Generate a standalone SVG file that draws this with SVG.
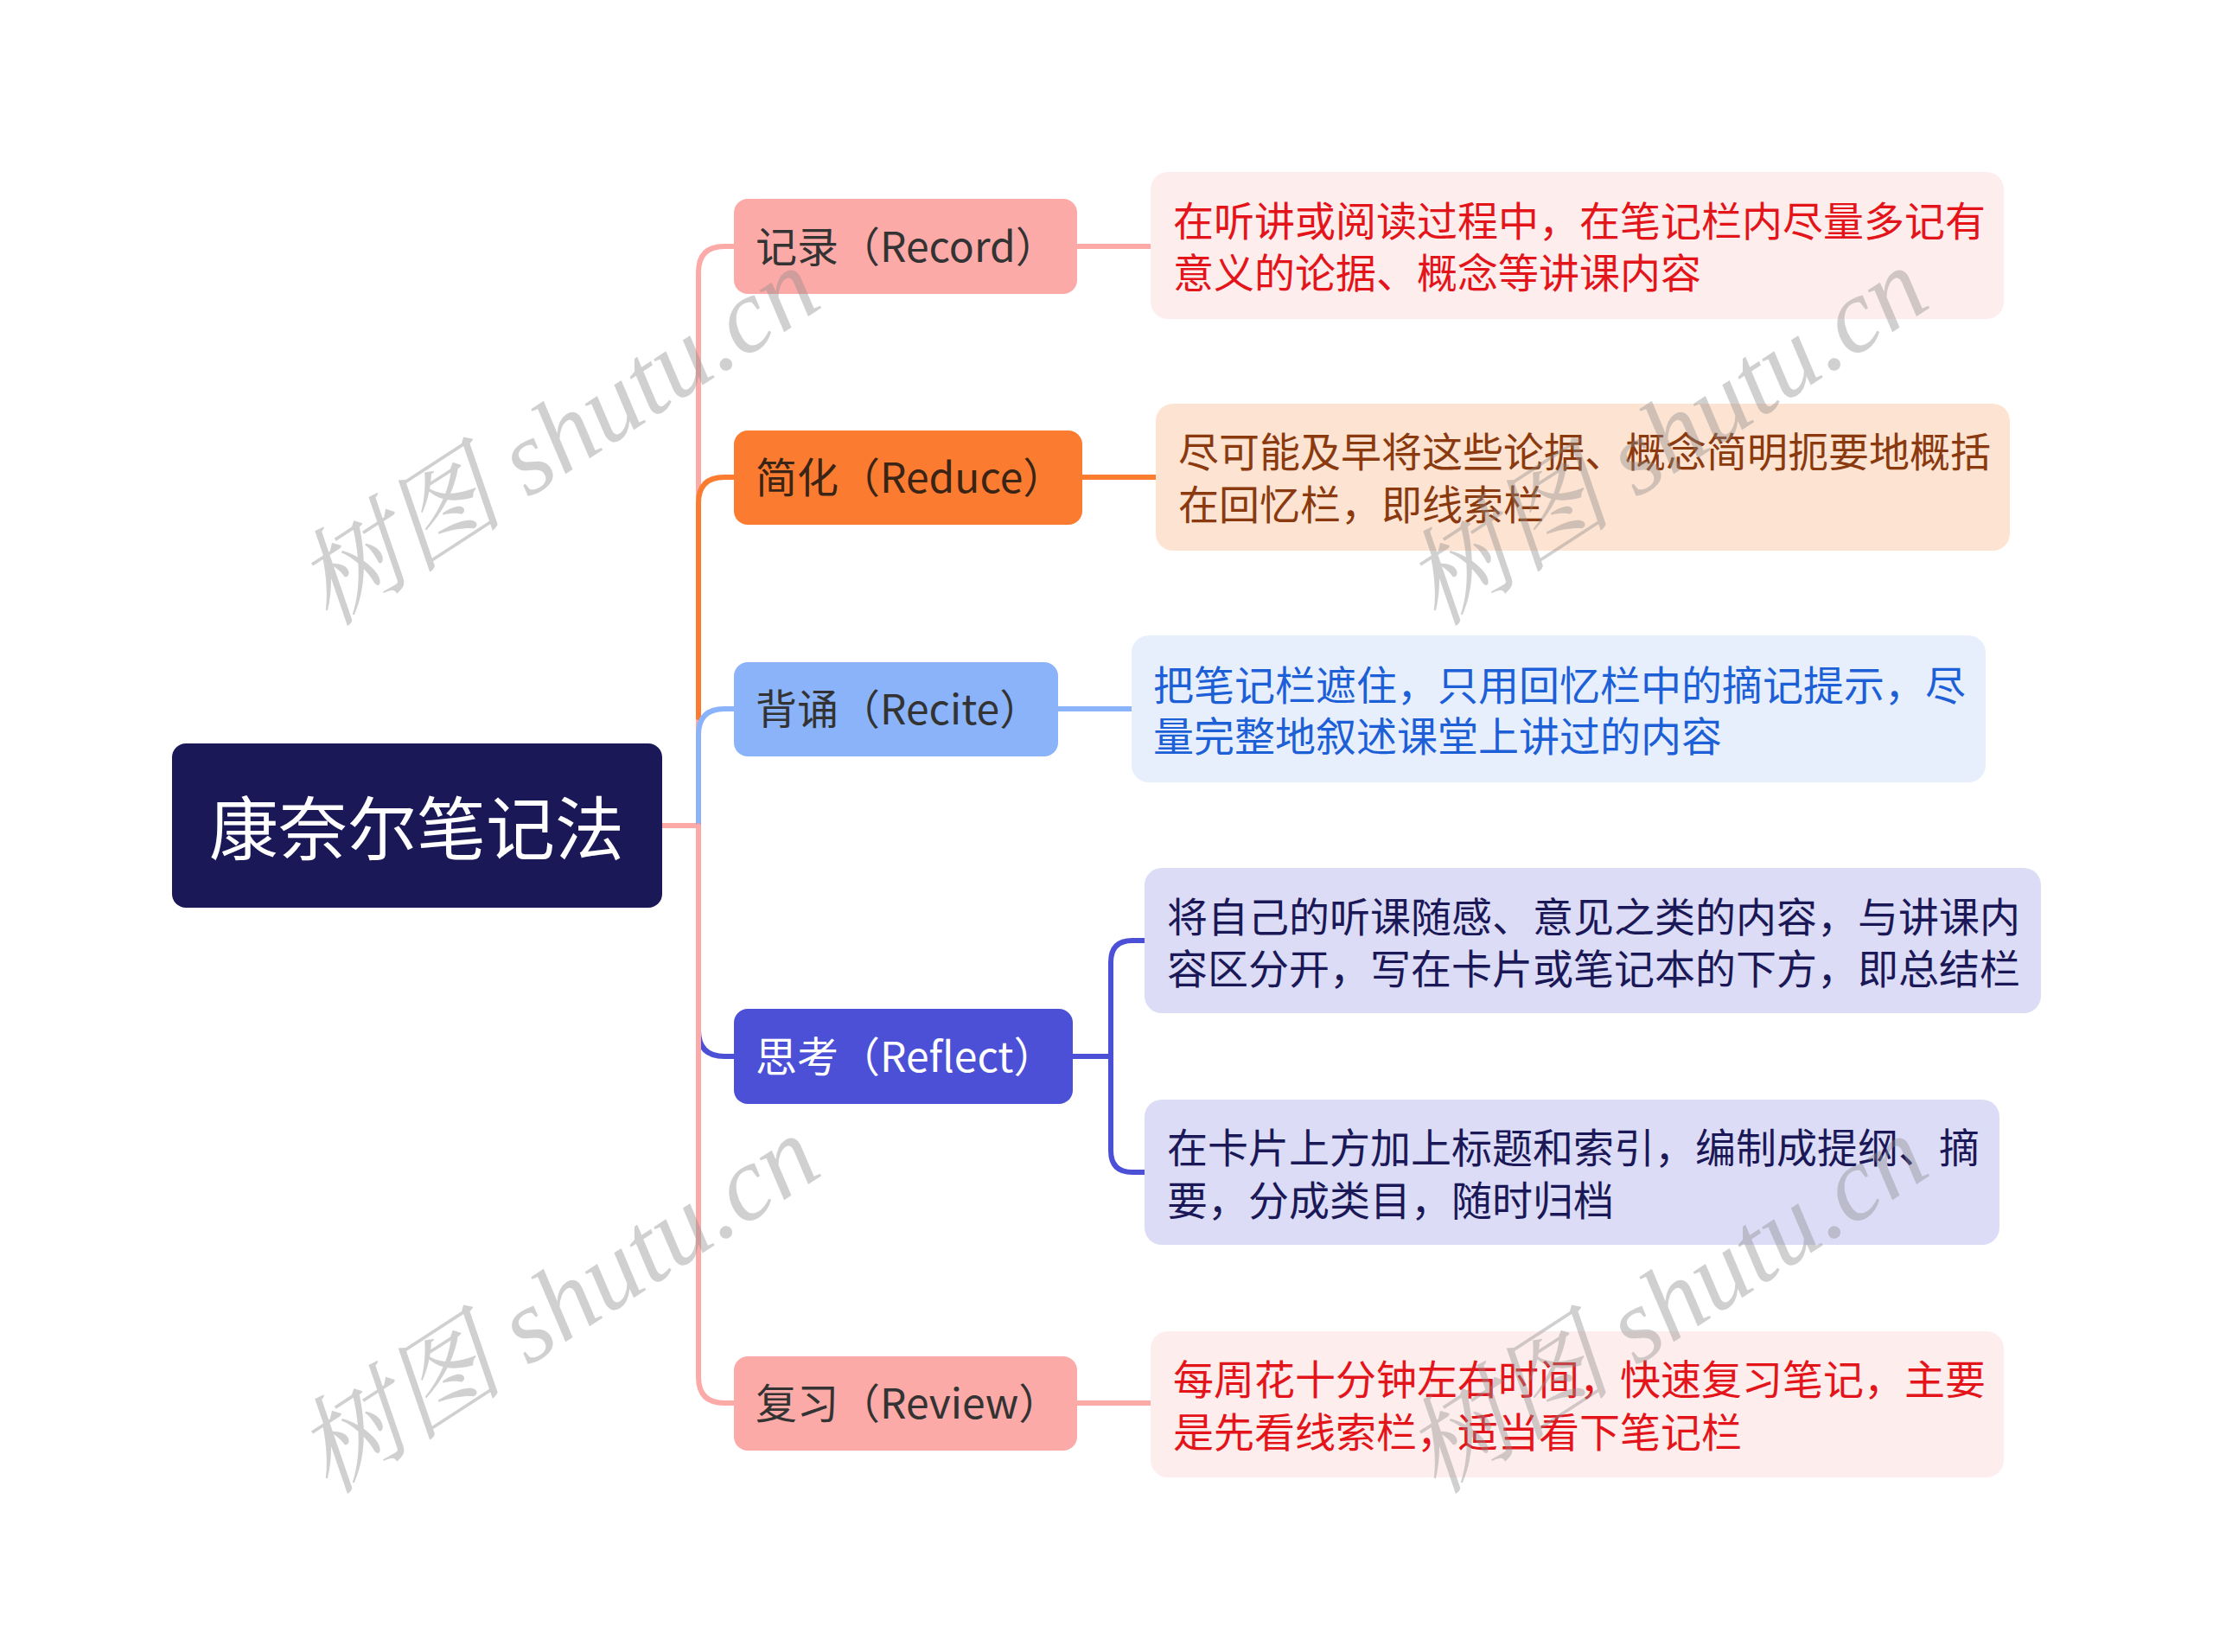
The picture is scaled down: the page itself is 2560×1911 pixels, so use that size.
<svg xmlns="http://www.w3.org/2000/svg" width="2560" height="1911" viewBox="0 0 2560 1911">
<style>
text{font-family:"Noto Sans CJK SC","Noto Sans",sans-serif;}
.br{font-size:48px;dominant-baseline:central;}
.lf{font-size:47px;dominant-baseline:central;}
.c{fill:none;stroke-width:6;stroke-linecap:round;stroke-linejoin:round;}
.wm{font-family:"Liberation Serif","Noto Serif CJK SC","Noto Sans CJK SC",serif;font-style:italic;font-size:122px;fill:#8c8c8c;opacity:0.4;}
</style>
<rect width="2560" height="1911" fill="#ffffff"/>
<g id="connectors">
<path class="c" stroke="#fcaaa8" d="M766 955 H808"/>
<path class="c" stroke="#fcaaa8" d="M808 955 V315 Q808 285 838 285 H849"/>
<path class="c" stroke="#fb7c30" d="M808 830 V582 Q808 552 838 552 H849"/>
<path class="c" stroke="#8ab3f9" d="M808 955 V850 Q808 820 838 820 H849"/>
<path class="c" stroke="#4b50d6" d="M808 955 V1192 Q808 1222 838 1222 H849"/>
<path class="c" stroke="#fcaaa8" d="M808 955 V1593 Q808 1623 838 1623 H849"/>
<path class="c" stroke="#fcaaa8" d="M1246 285 H1331"/>
<path class="c" stroke="#fb7c30" d="M1252 552 H1337"/>
<path class="c" stroke="#8ab3f9" d="M1224 820 H1309"/>
<path class="c" stroke="#4b50d6" d="M1241 1222 H1285"/>
<path class="c" stroke="#4b50d6" d="M1324 1088 H1310 Q1285 1088 1285 1113 V1331 Q1285 1356 1310 1356 H1324"/>
<path class="c" stroke="#fcaaa8" d="M1246 1623 H1331"/>
</g>
<g id="root">
<rect x="199" y="860" width="567" height="190" rx="16" fill="#1b1858"/>
<text x="482" y="953" font-size="80" fill="#ffffff" text-anchor="middle" dominant-baseline="central">康奈尔笔记法</text>
</g>
<g id="b1">
<rect x="849" y="230" width="397" height="110" rx="16" fill="#fcaaa8"/>
<text class="br" x="874" y="282" fill="#333333">记录（Record）</text>
</g>
<g id="b2">
<rect x="849" y="498" width="403" height="109" rx="16" fill="#fb7c30"/>
<text class="br" x="874" y="549" fill="#3a2416">简化（Reduce）</text>
</g>
<g id="b3">
<rect x="849" y="766" width="375" height="109" rx="16" fill="#8ab3f9"/>
<text class="br" x="874" y="817" fill="#333333">背诵（Recite）</text>
</g>
<g id="b4">
<rect x="849" y="1167" width="392" height="110" rx="16" fill="#4b50d6"/>
<text class="br" x="874" y="1219" fill="#ffffff">思考（Reflect）</text>
</g>
<g id="b5">
<rect x="849" y="1569" width="397" height="109" rx="16" fill="#fcaaa8"/>
<text class="br" x="874" y="1620" fill="#333333">复习（Review）</text>
</g>
<g id="l1">
<rect x="1331" y="199" width="987" height="170" rx="20" fill="#fdeeed"/>
<text class="lf" x="1357" y="252" fill="#e4141b">在听讲或阅读过程中，在笔记栏内尽量多记有</text>
<text class="lf" x="1357" y="312" fill="#e4141b">意义的论据、概念等讲课内容</text>
</g>
<g id="l2">
<rect x="1337" y="467" width="988" height="170" rx="20" fill="#fde3d2"/>
<text class="lf" x="1363" y="519" fill="#8a3a0e">尽可能及早将这些论据、概念简明扼要地概括</text>
<text class="lf" x="1363" y="580" fill="#8a3a0e">在回忆栏，即线索栏</text>
</g>
<g id="l3">
<rect x="1309" y="735" width="988" height="170" rx="20" fill="#e7effd"/>
<text class="lf" x="1334" y="789" fill="#1d5fd6">把笔记栏遮住，只用回忆栏中的摘记提示，尽</text>
<text class="lf" x="1334" y="848" fill="#1d5fd6">量完整地叙述课堂上讲过的内容</text>
</g>
<g id="l4a">
<rect x="1324" y="1004" width="1037" height="168" rx="20" fill="#dcdcf6"/>
<text class="lf" x="1350" y="1057" fill="#1b1858">将自己的听课随感、意见之类的内容，与讲课内</text>
<text class="lf" x="1350" y="1117" fill="#1b1858">容区分开，写在卡片或笔记本的下方，即总结栏</text>
</g>
<g id="l4b">
<rect x="1324" y="1272" width="989" height="168" rx="20" fill="#dcdcf6"/>
<text class="lf" x="1350" y="1324" fill="#1b1858">在卡片上方加上标题和索引，编制成提纲、摘</text>
<text class="lf" x="1350" y="1385" fill="#1b1858">要，分成类目，随时归档</text>
</g>
<g id="l5">
<rect x="1331" y="1540" width="987" height="169" rx="20" fill="#fdeeed"/>
<text class="lf" x="1357" y="1592" fill="#e4141b">每周花十分钟左右时间，快速复习笔记，主要</text>
<text class="lf" x="1357" y="1653" fill="#e4141b">是先看线索栏，适当看下笔记栏</text>
</g>
<g id="watermarks">
<text class="wm" x="645" y="505" text-anchor="middle" dominant-baseline="central" transform="rotate(-33 645 505)">树图 shutu.cn</text>
<text class="wm" x="1927" y="505" text-anchor="middle" dominant-baseline="central" transform="rotate(-33 1927 505)">树图 shutu.cn</text>
<text class="wm" x="645" y="1509" text-anchor="middle" dominant-baseline="central" transform="rotate(-33 645 1509)">树图 shutu.cn</text>
<text class="wm" x="1927" y="1509" text-anchor="middle" dominant-baseline="central" transform="rotate(-33 1927 1509)">树图 shutu.cn</text>
</g>
</svg>
